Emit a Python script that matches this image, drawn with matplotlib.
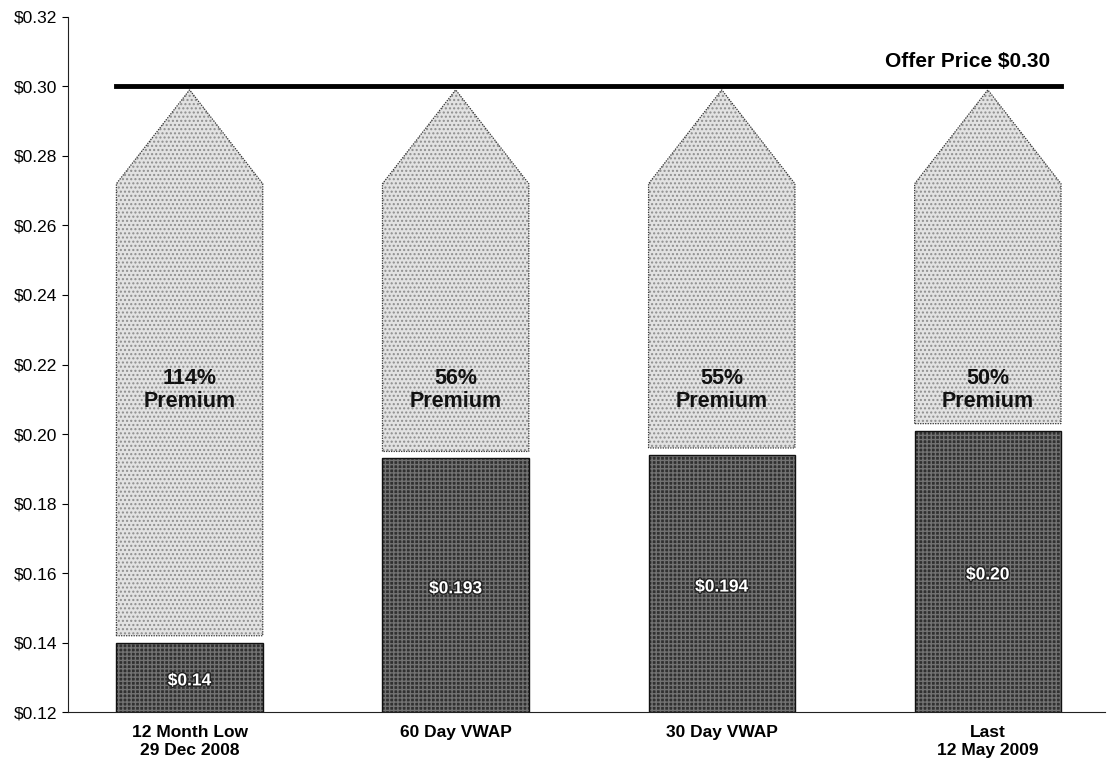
import matplotlib
matplotlib.use("Agg")
import matplotlib.pyplot as plt
import matplotlib.patheffects as pe
import numpy as np

plt.rcParams['font.family'] = ['Liberation Sans', 'DejaVu Sans']

# data
categories = ["12 Month Low\n29 Dec 2008", "60 Day VWAP", "30 Day VWAP", "Last\n12 May 2009"]
prices = [0.14, 0.193, 0.194, 0.201]
price_labels = ["$0.14", "$0.193", "$0.194", "$0.20"]
premiums = ["114%", "56%", "55%", "50%"]
offer_price = 0.30
yticks = [0.12, 0.14, 0.16, 0.18, 0.20, 0.22, 0.24, 0.26, 0.28, 0.30, 0.32]

fig = plt.figure(figsize=(11.09, 7.65), dpi=100)
ax = fig.add_axes([0.0613, 0.069, 0.935, 0.909])

x = np.arange(len(categories))
w = 0.55
dark = "#303030"
light = "#e2e2e2"

# dark bars (current price)
ax.bar(x, np.array(prices) - 0.12, bottom=0.12, width=w, color=dark,
       edgecolor="#727272", hatch="++++", linewidth=0, zorder=2)
ax.bar(x, np.array(prices) - 0.12, bottom=0.12, width=w, color="none",
       edgecolor="#111111", linewidth=1.0, zorder=3)

# arrows up to offer price
for xi, p, prem in zip(x, prices, premiums):
    base = p + 0.002
    shoulder = offer_price - 0.028
    apex = offer_price - 0.001
    xs = [xi - w / 2, xi - w / 2, xi, xi + w / 2, xi + w / 2]
    ys = [base, shoulder, apex, shoulder, base]
    ax.fill(xs, ys, facecolor=light, edgecolor="#8e8e8e", hatch="....",
            linewidth=0, zorder=2)
    ax.fill(xs, ys, facecolor="none", edgecolor="#333333", linewidth=0.9,
            linestyle=(0, (1, 1)), zorder=3)
    ax.text(xi, 0.2127, prem + "\nPremium", ha="center", va="center",
            fontsize=15.5, fontweight="bold", color="#111111", linespacing=1.08,
            zorder=4)

for xi, p, lab in zip(x, prices, price_labels):
    t = ax.text(xi, 0.12 + (p - 0.12) / 2 - 0.001, lab, ha="center", va="center",
                fontsize=12.5, fontweight="bold", color="white", zorder=4)
    t.set_path_effects([pe.withStroke(linewidth=2, foreground="#222222")])

# offer price line
ax.plot([x[0] - w / 2, x[-1] + w / 2], [offer_price, offer_price],
        color="black", linewidth=3.5, zorder=3)
ax.text(x[-1] + w / 2 - 0.04, offer_price + 0.0045, "Offer Price $0.30", ha="right",
        va="bottom", fontsize=15, fontweight="bold")

ax.set_xlim(-0.457, 3.44)
ax.set_ylim(0.12, 0.32)
ax.set_yticks(yticks)
ax.set_yticklabels(["$%.2f" % v for v in yticks], fontsize=12.5)
ax.set_xticks(x)
ax.set_xticklabels(categories, fontsize=12.5, fontweight="bold", linespacing=1.3)
ax.tick_params(axis="x", length=0, pad=9)
ax.tick_params(axis="y", length=4, direction="out", pad=4)
ax.spines["top"].set_visible(False)
ax.spines["right"].set_visible(False)
ax.spines["left"].set_color("#222222")
ax.spines["bottom"].set_color("#222222")

fig.savefig("out.png", dpi=100)
